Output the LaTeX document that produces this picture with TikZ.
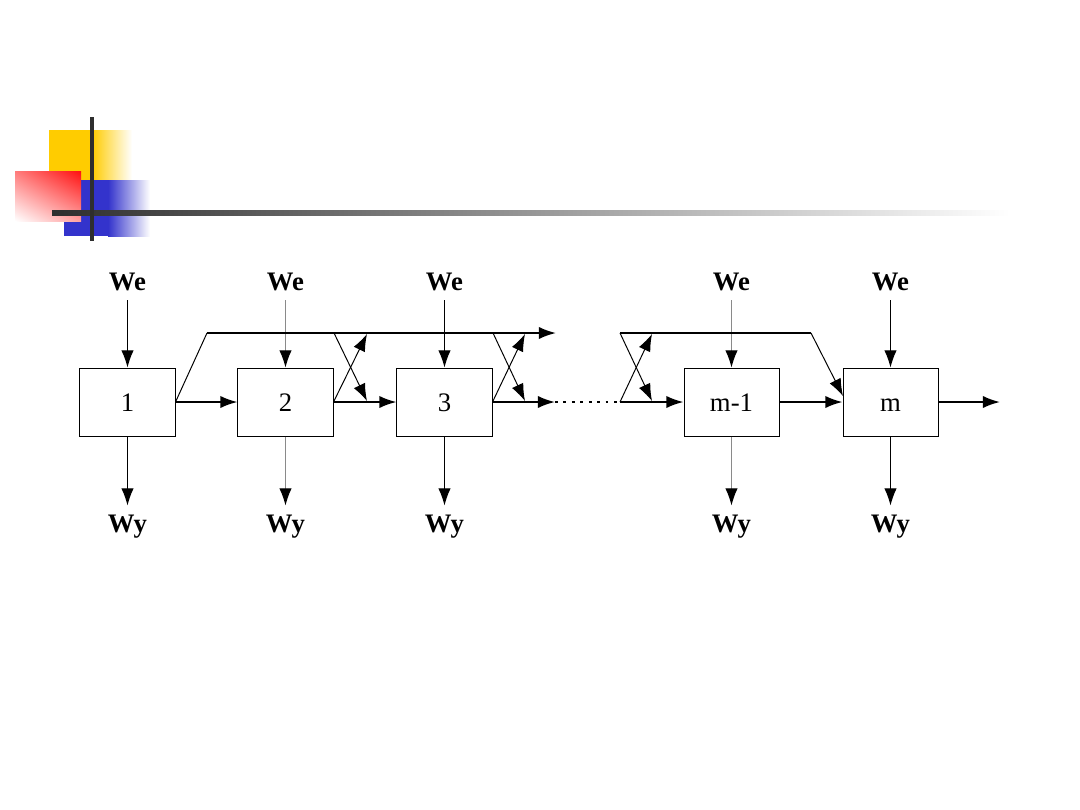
\documentclass[tikz,border=0pt]{standalone}
\usepackage{fontspec}
\setmainfont{Liberation Serif}
\usetikzlibrary{arrows.meta,shadings}
\definecolor{hdyellow}{HTML}{FFCC00}
\definecolor{hdblue}{HTML}{3333CC}
\definecolor{hdred}{HTML}{FF1010}
\definecolor{hdbar}{HTML}{2E2E2E}
\definecolor{lightline}{HTML}{8A8A8A}
\tikzset{
  blk/.style={draw=black, line width=0.7pt, minimum width=2.375cm, minimum height=1.7cm, inner sep=0pt, text height=12.9pt, text depth=0pt, font=\fontsize{19}{21}\selectfont},
  lbl/.style={inner sep=0pt, text height=12.9pt, text depth=3.8pt, font=\fontsize{19}{21}\selectfont\bfseries},
  tip/.style={-{Latex[length=4.3mm,width=3.1mm]}},
  flow/.style={tip, line width=1.4pt},
  thinflow/.style={tip, line width=0.7pt},
  vflow/.style={tip, line width=0.7pt},
  vflowlight/.style={line width=0.7pt, draw=lightline, -{Latex[length=4.3mm,width=3.1mm,fill=black,color=black]}},
  plain/.style={line width=0.7pt},
  topline/.style={line width=1.4pt},
}
\begin{document}
\begin{tikzpicture}[x=0.025cm,y=-0.025cm]
\useasboundingbox (0,0) rectangle (1080,810);
% header decoration
\fill[hdyellow] (49,130) rectangle (92,180);
\shade[left color=hdyellow, right color=white] (92,130) rectangle (132,180);
\fill[hdblue] (64,180) rectangle (108,236);
\shade[left color=hdblue, right color=white] (108,180) rectangle (150,236);
\shade[upper right=hdred, lower left=white, upper left=hdred!55, lower right=hdred!40] (15,171) rectangle (81,221);
\shade[left color=hdbar, right color=white] (52,210) rectangle (1010,215);
\fill[hdbar] (89.5,117) rectangle (93.5,241);

% blocks
\node[blk] (b1) at (127.5,402) {1};
\node[blk] (b2) at (285.5,402) {2};
\node[blk] (b3) at (444.5,402) {3};
\node[blk] (bm1) at (731.5,402) {m-1};
\node[blk] (bm) at (890.5,402) {m};

% labels
\foreach \n/\x in {1/127.5,2/285.5,3/444.5,m1/731.5,m/890.5}{
  \node[lbl] (we\n) at (\x,284) {We};
  \node[lbl] (wy\n) at (\x,526) {Wy};
}
\foreach \n in {1,3,m}{
  \draw[vflow] (we\n) ++(0,16) coordinate (wes\n) -- (b\n.north);
  \draw[vflow] (b\n.south) -- ++(0,69) coordinate (wye\n);
}
\foreach \n in {2,m1}{
  \draw[vflowlight] (we\n) ++(0,16) coordinate (wes\n) -- (b\n.north);
  \draw[vflowlight] (b\n.south) -- ++(0,69) coordinate (wye\n);
}

% coordinates
\coordinate (t1) at (207,333);
\coordinate (tend) at (556,333);
\coordinate (c2u) at (367,334);
\coordinate (c2t) at (334,333);
\coordinate (c2d) at (367,401);
\coordinate (c3u) at (525,334);
\coordinate (c3t) at (493,333);
\coordinate (c3d) at (525,401);
\coordinate (dotA) at (555,402);
\coordinate (dotB) at (620,402);
\coordinate (t4) at (620,333);
\coordinate (c4u) at (652,334);
\coordinate (c4d) at (652,401);
\coordinate (t5) at (811,333);
\coordinate (mIn) at (843,396);
\coordinate (outE) at (1000,402);

% top bypass line
\draw[plain] (b1.east) -- (t1);
\draw[flow] (t1) -- (tend);
\draw[topline] (t4) -- (t5);
\draw[thinflow] (t5) -- (mIn);

% main flow
\draw[flow] (b1.east) -- (b2.west);
\draw[flow] (b2.east) -- (b3.west);
\draw[flow] (b3.east) -- (dotA);
\draw[line width=1.4pt, dash pattern=on 2pt off 4pt] (dotA) -- (dotB);
\draw[flow] (dotB) -- (bm1.west);
\draw[flow] (bm1.east) -- (bm.west);
\draw[flow] (bm.east) -- (outE);

% crosses
\draw[thinflow] (b2.east) -- (c2u);
\draw[thinflow] (c2t) -- (c2d);
\draw[thinflow] (b3.east) -- (c3u);
\draw[thinflow] (c3t) -- (c3d);
\draw[thinflow] (dotB) -- (c4u);
\draw[thinflow] (t4) -- (c4d);
\end{tikzpicture}
\end{document}
